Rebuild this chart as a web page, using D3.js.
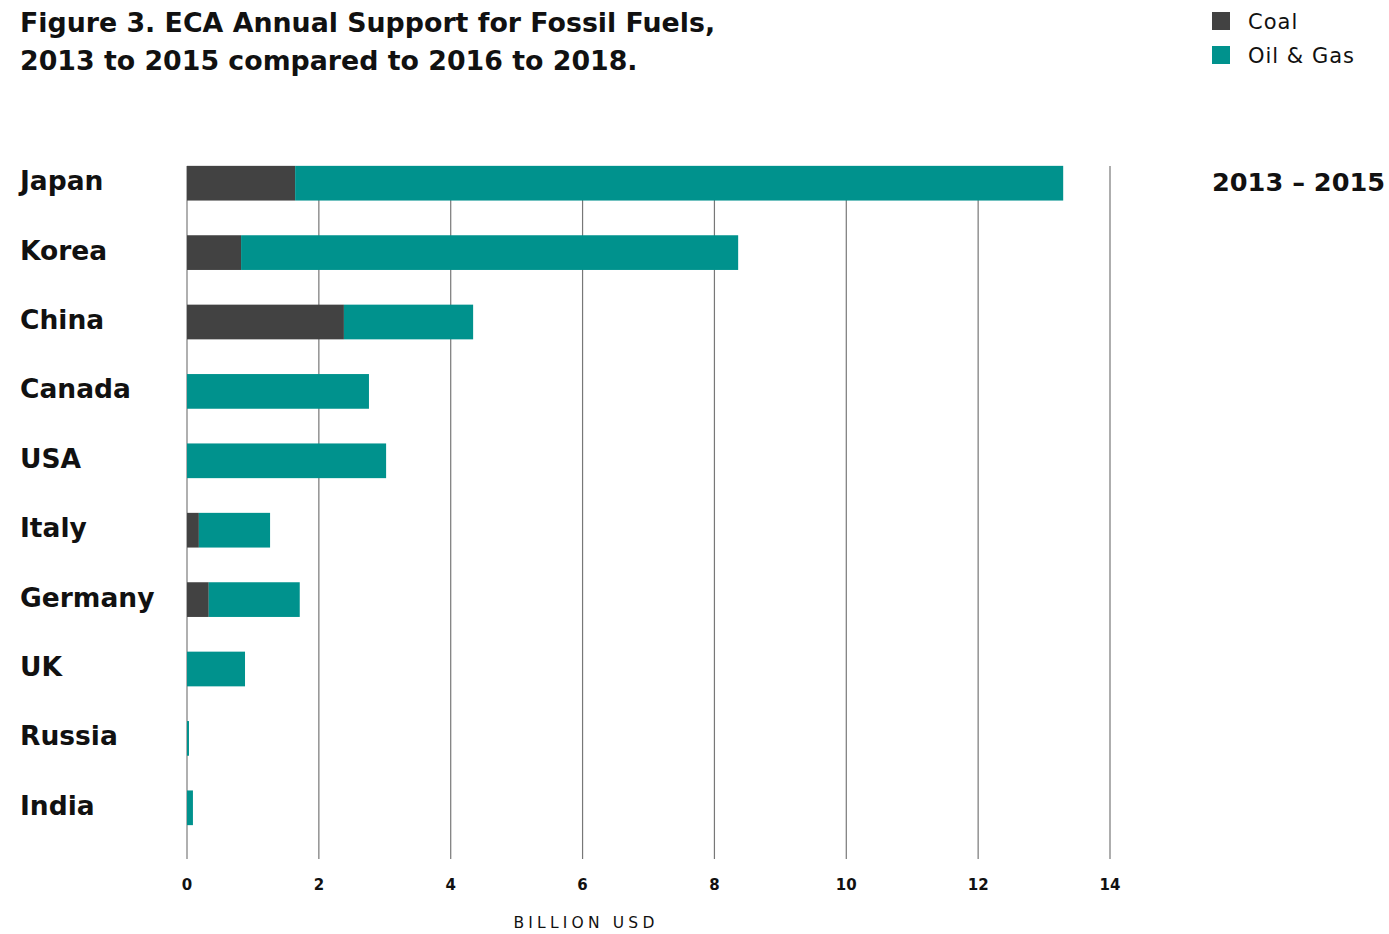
<!DOCTYPE html>
<html>
<head>
<meta charset="UTF-8">
<title>ECA Annual Support for Fossil Fuels</title>
<script src="https://d3js.org/d3.v7.min.js"></script>
<style>
	body { margin: 0; background: #fff; }
	text { font-family: "DejaVu Sans", "Open Sans", sans-serif; fill: #111; }
</style>
</head>
<body>
	<div id="svg-container"></div>
	<script type="text/javascript">

		// values, billion USD
		let countries = ["Japan", "Korea", "China", "Canada", "USA", "Italy", "Germany", "UK", "Russia", "India"];
		let coal   = [1.64, 0.82, 2.38, 0, 0, 0.18, 0.33, 0, 0, 0];
		let oilGas = [11.65, 7.54, 1.96, 2.76, 3.02, 1.08, 1.38, 0.88, 0.03, 0.09];
		let ticks = [0, 2, 4, 6, 8, 10, 12, 14];
		let seriesNames = ["Coal", "Oil & Gas"];
		let colors = ["#424242", "#00928d"];

		let width = 1389, height = 934;

		let svg = d3.select("#svg-container")
			.append("svg")
			.attr("width", width)
			.attr("height", height);

		let x = d3.scaleLinear().domain([0, 14]).range([187, 1110]);
		let y = d3.scaleBand().domain(countries).range([148.5, 842.5])
			.paddingInner(0.5).paddingOuter(0.25);

		// title
		let title = svg.append("text")
			.attr("x", 20)
			.attr("font-size", 26.8)
			.attr("font-weight", "bold");
		title.append("tspan").attr("x", 20).attr("y", 32).text("Figure 3. ECA Annual Support for Fossil Fuels,");
		title.append("tspan").attr("x", 20).attr("y", 70).text("2013 to 2015 compared to 2016 to 2018.");

		// grid lines
		svg.selectAll("line.grid")
			.data(ticks)
			.join("line")
			.attr("class", "grid")
			.attr("x1", d => x(d))
			.attr("x2", d => x(d))
			.attr("y1", 166)
			.attr("y2", 859)
			.attr("stroke", d => d === 0 ? "#b0b0b0" : "#777")
			.attr("stroke-width", d => d === 0 ? 2 : 1.2);

		// tick labels
		svg.selectAll("text.tick")
			.data(ticks)
			.join("text")
			.attr("class", "tick")
			.attr("x", d => x(d))
			.attr("y", 890)
			.attr("text-anchor", "middle")
			.attr("font-size", 15)
			.attr("font-weight", "bold")
			.text(d => d);

		svg.append("text")
			.attr("x", 586)
			.attr("y", 928)
			.attr("text-anchor", "middle")
			.attr("font-size", 15.5)
			.attr("letter-spacing", 4.2)
			.text("BILLION USD");

		// stacked bars
		let rows = countries.map((c, i) => ({ country: c, coal: coal[i], oilGas: oilGas[i] }));
		let stack = d3.stack().keys(["coal", "oilGas"])(rows);

		svg.selectAll("g.series")
			.data(stack)
			.join("g")
			.attr("class", "series")
			.attr("fill", (d, i) => colors[i])
			.selectAll("rect")
			.data(d => d)
			.join("rect")
			.attr("x", d => x(d[0]))
			.attr("y", d => y(d.data.country))
			.attr("width", d => x(d[1]) - x(d[0]))
			.attr("height", y.bandwidth());

		// country labels
		svg.selectAll("text.country")
			.data(countries)
			.join("text")
			.attr("class", "country")
			.attr("x", 20)
			.attr("y", d => y(d) + y.bandwidth() / 2 + 7)
			.attr("font-size", 26.5)
			.attr("font-weight", "bold")
			.text(d => d);

		svg.append("text")
			.attr("x", 1212)
			.attr("y", 191)
			.attr("font-size", 25.6)
			.attr("font-weight", "bold")
			.text("2013 \u2013 2015");

		// legend
		let legend = svg.selectAll("g.legend")
			.data(seriesNames)
			.join("g")
			.attr("class", "legend")
			.attr("transform", (d, i) => "translate(1212," + (12 + i * 34) + ")");
		legend.append("rect")
			.attr("width", 18)
			.attr("height", 18)
			.attr("fill", (d, i) => colors[i]);
		legend.append("text")
			.attr("x", 36)
			.attr("y", 17)
			.attr("font-size", 21)
			.attr("letter-spacing", 1)
			.text(d => d);
	</script>
</body>
</html>
